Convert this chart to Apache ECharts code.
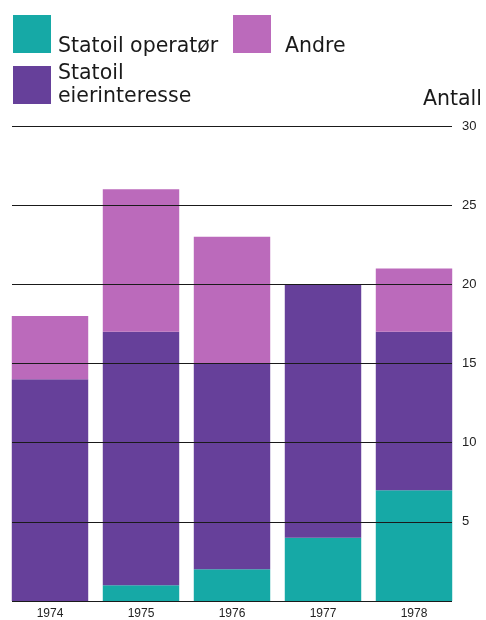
<!DOCTYPE html>
<html><head><meta charset="utf-8">
<script src="https://cdn.jsdelivr.net/npm/echarts@6/dist/echarts.min.js"></script>
<style>html,body{margin:0;padding:0;background:#fff}#c{width:486px;height:620px}</style>
</head><body><div id="c"></div>
<script>
var years = ['1974', '1975', '1976', '1977', '1978'];
var operator = [0, 1, 2, 4, 7];
var eierinteresse = [14, 16, 13, 16, 10];
var andre = [4, 9, 8, 0, 4];
var yTicks = [0, 5, 10, 15, 20, 25, 30];

var TEAL = '#16a9a6', PURPLE = '#66409a', PINK = '#bb6abb';
var FONT = 'DejaVu Sans';
var FS = 20.5;

var chart = echarts.init(document.getElementById('c'));
function legendFmt(name) {
  return name.split('\n').map(function (s) { return '{a|' + s + '}'; }).join('\n');
}
function legendItem(left, top, name, pad, lh) {
  var rich = { a: { fontFamily: FONT, fontSize: FS, color: '#1a1a1a', padding: pad } };
  if (lh) rich.a.lineHeight = lh;
  return {
    orient: 'vertical', itemWidth: 38, itemHeight: 38, padding: 0,
    icon: 'rect', selectedMode: false, formatter: legendFmt,
    left: left, top: top, data: [name],
    textStyle: { fontFamily: FONT, fontSize: FS, color: '#1a1a1a', rich: rich }
  };
}
chart.setOption({
  animation: false,
  legend: [
    legendItem(13, 15, 'Statoil operatør', [25, 0, 0, 2]),
    legendItem(233, 15, 'Andre', [25, 0, 0, 9]),
    legendItem(13, 63, 'Statoil\neierinteresse', [0, 0, 0, 2], 23)
  ],
  title: { text: 'Antall', right: 4, top: 89, padding: 0,
    textStyle: { fontFamily: FONT, fontSize: FS, fontWeight: 'normal', color: '#1a1a1a' } },
  grid: [
    { left: 4.5, right: 26.5, top: 126, bottom: 19 },
    { left: 12, right: 34, top: 126, bottom: 19 }
  ],
  xAxis: [
    { type: 'category', data: years, gridIndex: 0,
      axisLine: { show: false }, axisTick: { show: false },
      axisLabel: { fontFamily: 'Liberation Sans', fontSize: 12, color: '#222', margin: 7 } },
    { type: 'category', data: years, gridIndex: 1, show: false }
  ],
  yAxis: [
    { type: 'value', gridIndex: 0, min: 0, max: 30, interval: 5, show: false, splitLine: { show: false } },
    { type: 'value', gridIndex: 1, min: 0, max: 30, interval: 5, position: 'right', z: 10,
      axisLine: { show: false }, axisTick: { show: false },
      axisLabel: { fontFamily: 'Liberation Sans', fontSize: 13, color: '#222', margin: 10, align: 'left',
        formatter: function (v) { return (v === 0 || yTicks.indexOf(v) < 0) ? '' : String(v); } },
      splitLine: { show: true, lineStyle: { color: '#1a1a1a', width: 1.2 } } }
  ],
  series: [
    { name: 'Statoil operatør', type: 'bar', stack: 's', data: operator, barCategoryGap: '16%',
      itemStyle: { color: TEAL }, xAxisIndex: 0, yAxisIndex: 0 },
    { name: 'Statoil\neierinteresse', type: 'bar', stack: 's', data: eierinteresse,
      itemStyle: { color: PURPLE }, xAxisIndex: 0, yAxisIndex: 0 },
    { name: 'Andre', type: 'bar', stack: 's', data: andre,
      itemStyle: { color: PINK }, xAxisIndex: 0, yAxisIndex: 0 },
    { type: 'line', data: [], xAxisIndex: 1, yAxisIndex: 1 }
  ]
});
</script></body></html>
